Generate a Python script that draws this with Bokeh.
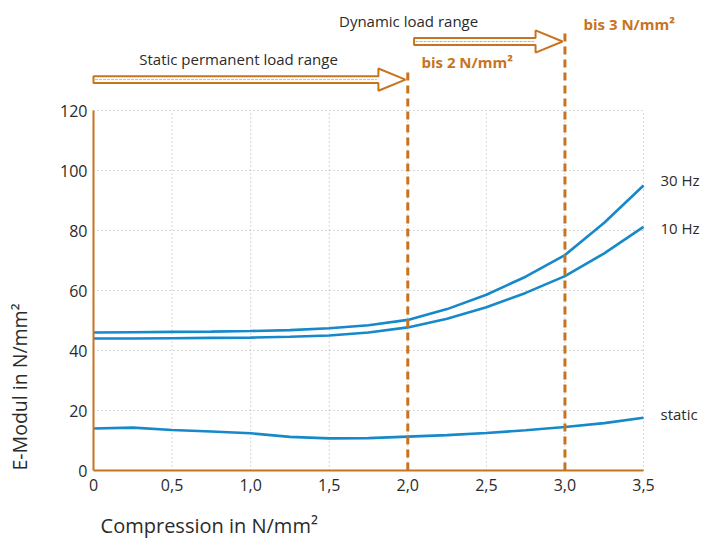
import math
from bokeh.plotting import figure
from bokeh.models import Range1d, FixedTicker, Label
from bokeh.embed import file_html
from bokeh.resources import INLINE

# ---------------- data ----------------
compression = [0, 0.25, 0.5, 0.75, 1.0, 1.25, 1.5, 1.75, 2.0, 2.25, 2.5, 2.75, 3.0, 3.25, 3.5]
e_30hz = [46.0, 46.1, 46.2, 46.3, 46.5, 46.8, 47.4, 48.4, 50.2, 53.8, 58.6, 64.6, 71.8, 82.6, 95.0]
e_10hz = [44.0, 44.0, 44.1, 44.2, 44.3, 44.6, 45.0, 46.0, 47.7, 50.6, 54.4, 59.2, 64.8, 72.4, 81.2]
e_static = [14.0, 14.3, 13.5, 13.0, 12.4, 11.2, 10.7, 10.8, 11.3, 11.8, 12.5, 13.4, 14.5, 15.8, 17.6]

series_names = ["30 Hz", "10 Hz", "static"]
load_limits = [2.0, 3.0]
limit_labels = ["bis 2 N/mm²", "bis 3 N/mm²"]
range_names = ["Static permanent load range", "Dynamic load range"]
range_spans = [(0.0, 1.985), (2.04, 2.985)]

x_ticks = [0, 0.5, 1.0, 1.5, 2.0, 2.5, 3.0, 3.5]
x_tick_labels = ["0", "0,5", "1,0", "1,5", "2,0", "2,5", "3,0", "3,5"]
y_ticks = [0, 20, 40, 60, 80, 100, 120]
x_title = "Compression in N/mm²"
y_title = "E-Modul in N/mm²"

# ---------------- styles / layout ----------------
ORANGE = "#c8731e"
BLUE = "#1589c9"
TEXT = "#2b2b2b"
GRID = "#b0b0b0"
FONT = "Open Sans"

# the frame covers the whole canvas; axes are pinned at x=0 / y=0
p = figure(width=701, height=539,
           x_range=Range1d(-0.5918, 3.869), y_range=Range1d(-23.0, 156.67),
           output_backend="svg", toolbar_location=None,
           min_border_left=0, min_border_right=0, min_border_top=0, min_border_bottom=0)
p.outline_line_color = None
p.background_fill_color = "white"
p.border_fill_color = "white"
p.xgrid.visible = False
p.ygrid.visible = False

for ax in (p.xaxis[0], p.yaxis[0]):
    ax.fixed_location = 0
    ax.axis_line_color = ORANGE
    ax.axis_line_width = 2
    ax.major_tick_line_color = None
    ax.minor_tick_line_color = None
    ax.major_tick_out = 0
    ax.minor_tick_out = 0
    ax.major_label_text_font = FONT
    ax.major_label_text_font_size = "16px"
    ax.major_label_text_color = TEXT

p.xaxis[0].bounds = (x_ticks[0], x_ticks[-1])
p.xaxis[0].ticker = FixedTicker(ticks=x_ticks)
p.xaxis[0].major_label_overrides = {t: l for t, l in zip(x_ticks, x_tick_labels)}
p.xaxis[0].major_label_standoff = 8
p.yaxis[0].bounds = (y_ticks[0], y_ticks[-1])
p.yaxis[0].ticker = FixedTicker(ticks=y_ticks)
p.yaxis[0].major_label_standoff = 6

# dotted grid, limited to the data area
gy = y_ticks[1:]
p.segment(x0=[x_ticks[0]] * len(gy), x1=[x_ticks[-1]] * len(gy), y0=gy, y1=gy,
          line_color=GRID, line_width=1, line_dash="1 3")
gx = x_ticks[1:]
p.segment(x0=gx, x1=gx, y0=[y_ticks[0]] * len(gx), y1=[y_ticks[-1]] * len(gx),
          line_color=GRID, line_width=1, line_dash="1 3")

# curves
for ys in (e_30hz, e_10hz, e_static):
    p.line(compression, ys, line_color=BLUE, line_width=2.6)

# dashed limit lines
limit_tops = [132.7, 145.7]
p.segment(x0=load_limits, x1=load_limits, y0=[0, 0], y1=limit_tops,
          line_color=ORANGE, line_width=3, line_dash="8 5")

# hollow arrows
arrow_y = [130.3, 143.0]
shaft_h, head_h, head_l = 1.15, 3.7, 0.172
xs_list, ys_list, mid_x0, mid_x1 = [], [], [], []
for (a, b), yc in zip(range_spans, arrow_y):
    xs_list.append([a, b - head_l, b - head_l, b, b - head_l, b - head_l, a])
    ys_list.append([yc - shaft_h, yc - shaft_h, yc - head_h, yc, yc + head_h, yc + shaft_h, yc + shaft_h])
    mid_x0.append(a + 0.01)
    mid_x1.append(b - head_l - 0.01)
p.patches(xs_list, ys_list, fill_color="white", line_color=ORANGE, line_width=2)
p.segment(x0=mid_x0, x1=mid_x1, y0=arrow_y, y1=arrow_y,
          line_color="#e4b07a", line_width=1, line_dash="3 1")

def add_label(x, y, text, size, color=TEXT, align="left", baseline="middle", bold=False, angle=0.0):
    p.add_layout(Label(x=x, y=y, text=text, text_font=FONT, text_font_size=size,
                       text_color=color, text_align=align, text_baseline=baseline,
                       text_font_style="bold" if bold else "normal", angle=angle))

# series labels
for name, yv in zip(series_names, [96.7, 80.7, 19.0]):
    add_label(3.608, yv, name, "15px")

# range labels
add_label(0.923, 137.3, range_names[0], "15px", align="center")
add_label(2.005, 150.0, range_names[1], "15px", align="center")

# limit labels
for txt, lx, ly in zip(limit_labels, [2.087, 3.118], [136.3, 148.7]):
    add_label(lx, ly, txt, "15px", color=ORANGE, bold=True)

# axis titles
add_label(0.045, -18.3, x_title, "20px", baseline="alphabetic")
add_label(-0.47, 0.0, y_title, "19.5px", baseline="alphabetic", angle=math.pi / 2)

open("out.html", "w").write(file_html(p, INLINE))
